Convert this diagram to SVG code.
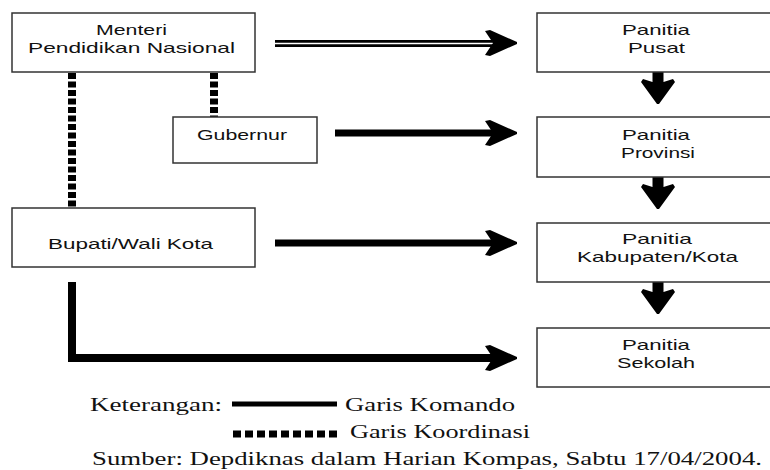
<svg xmlns="http://www.w3.org/2000/svg" width="770" height="470" viewBox="0 0 770 470">
<style>
.box{fill:#fff;stroke:#333;stroke-width:1.5}
.t{font-family:"Liberation Sans",Arial,sans-serif;font-size:15px;fill:#111}
.s{font-family:"Liberation Serif","Times New Roman",serif;font-size:18px;fill:#111}
.cmd{stroke:#000;stroke-width:7;fill:none}
.dot{stroke:#000;stroke-width:8;stroke-dasharray:6 2.5;fill:none}
</style>
<defs>
<path id="ah" d="M-32,-12 L-27,-13 L0,-1 L0,1 L-27,13 L-32,12 L-24,0 Z" fill="#000"/>
<path id="dh" d="M-5.5,0 H5.5 V10 L15,7 L17,10 L1,32 L-1,32 L-17,10 L-15,7 L-5.5,10 Z" fill="#000"/>
</defs>
<rect width="770" height="470" fill="#fff"/>
<g id="connectors">
  <line class="dot" x1="72" y1="73" x2="72" y2="208"/>
  <line class="dot" x1="214" y1="73" x2="214" y2="117"/>
  <line x1="275" y1="43.5" x2="500" y2="43.5" stroke="#000" stroke-width="7"/>
  <line x1="275" y1="43.5" x2="500" y2="43.5" stroke="#fff" stroke-width="1.5"/>
  <use href="#ah" x="517" y="43"/>
  <line class="cmd" x1="335" y1="133" x2="500" y2="133"/>
  <use href="#ah" x="517" y="133"/>
  <line class="cmd" x1="275" y1="243" x2="500" y2="243"/>
  <use href="#ah" x="517" y="243"/>
  <path d="M72,282 V358 H500" stroke="#000" stroke-width="8" fill="none"/>
  <use href="#ah" x="517" y="358"/>
  <use href="#dh" x="658" y="72"/>
  <use href="#dh" x="658" y="177"/>
  <use href="#dh" x="658" y="282"/>
</g>
<g id="menteri">
  <rect class="box" x="12" y="13" width="243" height="59"/>
  <text class="t" x="96" y="35" textLength="71" lengthAdjust="spacingAndGlyphs">Menteri</text>
  <text class="t" x="28" y="53" textLength="207" lengthAdjust="spacingAndGlyphs">Pendidikan Nasional</text>
</g>
<g id="gubernur">
  <rect class="box" x="173" y="117" width="144" height="46"/>
  <text class="t" x="197" y="140" textLength="90" lengthAdjust="spacingAndGlyphs">Gubernur</text>
</g>
<g id="bupati">
  <rect class="box" x="12" y="208" width="243" height="59"/>
  <text class="t" x="48" y="249" textLength="165" lengthAdjust="spacingAndGlyphs">Bupati/Wali Kota</text>
</g>
<g id="pusat">
  <rect class="box" x="537" y="13" width="245" height="59"/>
  <text class="t" x="622" y="35" textLength="68" lengthAdjust="spacingAndGlyphs">Panitia</text>
  <text class="t" x="628" y="53" textLength="57" lengthAdjust="spacingAndGlyphs">Pusat</text>
</g>
<g id="provinsi">
  <rect class="box" x="537" y="117" width="245" height="60"/>
  <text class="t" x="622" y="140" textLength="68" lengthAdjust="spacingAndGlyphs">Panitia</text>
  <text class="t" x="621" y="158" textLength="74" lengthAdjust="spacingAndGlyphs">Provinsi</text>
</g>
<g id="kabupaten">
  <rect class="box" x="537" y="223" width="245" height="59"/>
  <text class="t" x="622" y="244" textLength="70" lengthAdjust="spacingAndGlyphs">Panitia</text>
  <text class="t" x="577" y="262" textLength="161" lengthAdjust="spacingAndGlyphs">Kabupaten/Kota</text>
</g>
<g id="sekolah">
  <rect class="box" x="537" y="328" width="245" height="59"/>
  <text class="t" x="622" y="350" textLength="68" lengthAdjust="spacingAndGlyphs">Panitia</text>
  <text class="t" x="617" y="368" textLength="78" lengthAdjust="spacingAndGlyphs">Sekolah</text>
</g>
<g id="legend">
  <text class="s" x="90" y="411" textLength="132" lengthAdjust="spacingAndGlyphs">Keterangan:</text>
  <line x1="232" y1="404" x2="337" y2="404" stroke="#000" stroke-width="5"/>
  <text class="s" x="345" y="411" textLength="170" lengthAdjust="spacingAndGlyphs">Garis Komando</text>
  <line x1="233" y1="434" x2="337" y2="434" stroke="#000" stroke-width="7" stroke-dasharray="8 4"/>
  <text class="s" x="350" y="438" textLength="180" lengthAdjust="spacingAndGlyphs">Garis Koordinasi</text>
  <text class="s" x="92" y="465" textLength="670" lengthAdjust="spacingAndGlyphs">Sumber: Depdiknas dalam Harian Kompas, Sabtu 17/04/2004.</text>
</g>
</svg>
